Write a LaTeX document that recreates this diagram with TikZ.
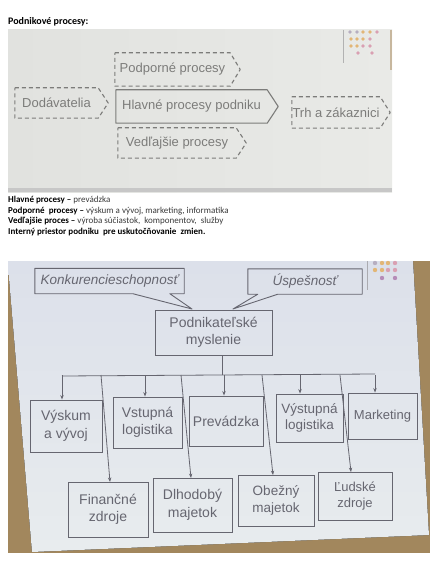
\documentclass[tikz,border=0pt]{standalone}
\usepackage{fontspec}
\setmainfont{Carlito}
\newfontfamily\arialf{Liberation Sans}
\usetikzlibrary{arrows.meta}
\definecolor{bgA}{HTML}{E1E2DF}
\definecolor{bgAr}{HTML}{E9EAE7}
\definecolor{inkA}{HTML}{7C7C7A}
\definecolor{slideT}{HTML}{DCE0EA}
\definecolor{slideB}{HTML}{E8ECEE}
\definecolor{inkB}{HTML}{666670}
\definecolor{brownB}{HTML}{A2875D}
\definecolor{dotO}{HTML}{E2B676}
\definecolor{dotP}{HTML}{D9A0B2}
\definecolor{dotG}{HTML}{B6AEC0}
\definecolor{dotV}{HTML}{B58CB8}
\definecolor{docgray}{HTML}{3A3A3A}
\tikzset{
  doc/.style={anchor=base west, inner sep=0pt, text=docgray, font=\fontsize{9}{10}\selectfont},
  procbody/.style={rectangle, inner sep=0pt, text=inkA, font=\arialf\fontsize{13}{15}\selectfont},
  dashA/.style={draw=inkA, line width=1.1pt, dash pattern=on 4pt off 3pt, line join=round},
  solidA/.style={draw=inkA, line width=1.1pt, line join=round},
  boxB/.style={rectangle, draw=inkB, line width=0.9pt, inner sep=0pt, align=center, text=inkB,
    font=\arialf\fontsize{14}{17.5}\selectfont},
  callB/.style={rectangle, inner sep=0pt, text=inkB,
    font=\arialf\itshape\fontsize{13.5}{16}\selectfont},
  calloutline/.style={draw=inkB, line width=0.9pt, line join=round},
  conB/.style={draw=inkB, line width=0.8pt},
  arrB/.style={conB, -{Stealth[length=4.5pt,width=3.4pt]}},
  dotA/.style={circle, inner sep=0pt, minimum size=3.6pt},
  dotB/.style={circle, inner sep=0pt, minimum size=4.4pt}
}
\begin{document}
\begin{tikzpicture}[x=1pt,y=-1pt]
\useasboundingbox[fill=white] (0,0) rectangle (443,580);

% ---------- title ----------
\node[doc, text=black, font=\bfseries\fontsize{10}{12}\selectfont] (title) at (8,25) {Podnikové procesy:};

% ---------- photo 1 ----------
\fill[left color=bgA, right color=bgAr] (8,30) rectangle (392,192);
\fill[color=black!22] (8,188) rectangle (392,192);
\fill[color=brownB!60] (389.5,30) rectangle (392,70);
\draw[color=black!30, line width=0.6pt] (343,30) -- (343,63);
\foreach \x/\c in {350/dotG,357/dotG,363/dotO,370/dotO,377/dotP} \node[dotA, fill=\c] at (\x,32) {};
\foreach \x/\c in {351/dotO,357/dotO,363/dotO,370/dotP} \node[dotA, fill=\c] at (\x,39) {};
\foreach \x/\c in {351/dotO,357/dotO,363/dotP,370/dotP} \node[dotA, fill=\c] at (\x,46) {};
\foreach \x/\c in {358/dotP,372/dotP} \node[dotA, fill=\c] at (\x,53) {};

\node[procbody, minimum width=115pt, minimum height=33pt] (pp) at (172.5,69.5) {Podporné procesy};
\node[procbody, minimum width=83pt, minimum height=30pt] (dod) at (56.5,103) {Dodávatelia};
\node[procbody, minimum width=151pt, minimum height=33pt] (hp) at (191.5,106.5) {Hlavné procesy podniku};
\node[procbody, minimum width=88pt, minimum height=31pt] (trh) at (336,112.5) {Trh a zákaznici};
\node[procbody, minimum width=118pt, minimum height=30pt] (vp) at (177,143) {Vedľajšie procesy};
\foreach \n in {pp,dod,trh,vp}
  \draw[dashA] (\n.north west) -- (\n.north east) -- ([xshift=10pt]\n.east) -- (\n.south east) -- (\n.south west) -- cycle;
\draw[solidA] (hp.north west) -- (hp.north east) -- ([xshift=11pt]hp.east) -- (hp.south east) -- (hp.south west) -- cycle;

% ---------- document text ----------
\node[doc] (l1) at (8,202) {\textbf{\color{black}Hlavné procesy –} prevádzka};
\node[doc] (l2) at (8,213) {\textbf{\color{black}Podporné~ procesy –} výskum a vývoj, marketing, informatika};
\node[doc] (l3) at (8,223.5) {\textbf{\color{black}Vedľajšie proces –} výroba súčiastok,~ komponentov,~ služby};
\node[doc, text=black, font=\bfseries\fontsize{9}{10}\selectfont] (l4) at (8,234) {Interný priestor podniku~ pre uskutočňovanie~ zmien.};

% ---------- photo 2 ----------
\fill[brownB] (8,261) rectangle (430,553);
\fill[top color=slideT, bottom color=slideB] (8,261) -- (413,261) -- (429,535) -- (32,552) -- (8,266) -- cycle;
\draw[color=inkB!55, line width=0.6pt] (367,261) -- (367,290);
\foreach \x/\c in {375/dotG,382/dotO,388/dotO,395/dotP} \node[dotB, fill=\c] at (\x,263) {};
\foreach \x/\c in {375/dotO,382/dotO,388/dotP,395/dotP} \node[dotB, fill=\c] at (\x,270) {};
\foreach \x/\c in {382/dotV,395/dotV} \node[dotB, fill=\c] at (\x,278) {};

\node[boxB, minimum width=117pt, minimum height=45pt] (pm) at (213.5,332.5) {Podnikateľské\\myslenie};

\node[callB, minimum width=149pt, minimum height=25pt] (kon) at (109.5,281) {Konkurencieschopnosť};
\node[callB, minimum width=114pt, minimum height=25pt] (usp) at (305,281.5) {Úspešnosť};
\coordinate (kt) at (192,309);
\coordinate (ut) at (233,309);
\draw[calloutline] (kon.south west) -- ([xshift=98pt]kon.south west) -- (kt) -- ([xshift=135pt]kon.south west)
  -- (kon.south east) -- (kon.north east) -- (kon.north west) -- cycle;
\draw[calloutline] (usp.south west) -- ([xshift=10pt]usp.south west) -- (ut) -- ([xshift=30pt]usp.south west)
  -- (usp.south east) -- (usp.north east) -- (usp.north west) -- cycle;

\node[boxB, minimum width=72pt, minimum height=52pt] (v1) at (66,426) {Výskum\\a vývoj};
\node[boxB, minimum width=69pt, minimum height=51pt] (v2) at (147.5,422.5) {Vstupná\\logistika};
\node[boxB, minimum width=74pt, minimum height=50pt] (v3) at (226,421) {Prevádzka};
\node[boxB, minimum width=67pt, minimum height=48pt, font=\arialf\fontsize{13.5}{16.5}\selectfont] (v4) at (309.5,418) {Výstupná\\logistika};
\node[boxB, minimum width=69pt, minimum height=46pt, font=\arialf\fontsize{13}{16}\selectfont] (v5) at (382.5,416) {Marketing};

\node[boxB, minimum width=80pt, minimum height=55pt] (b1) at (108,509.5) {Finančné\\zdroje};
\node[boxB, minimum width=79pt, minimum height=54pt] (b2) at (192.5,505) {Dlhodobý\\majetok};
\node[boxB, minimum width=76pt, minimum height=51pt, font=\arialf\fontsize{13.5}{17}\selectfont] (b3) at (276,500.5) {Obežný\\majetok};
\node[boxB, minimum width=74pt, minimum height=48pt, font=\arialf\fontsize{13}{16.5}\selectfont] (b4) at (355,496) {Ľudské\\zdroje};

% connectors
\coordinate (j0) at (222,375);
\coordinate (jL) at (62,376);
\coordinate (jR) at (375,374);
\draw[conB] (j0 |- pm.south) -- (j0);
\draw[conB] (jL) -- (jR);
\foreach \x/\n in {62/v1,145/v2,224/v3,300/v4,375/v5}
  \draw[arrB] (\x,375) -- (\x,0 |- \n.north);
\coordinate (e1) at (110,482);
\coordinate (e2) at (191,478);
\coordinate (e3) at (273,475);
\coordinate (e4) at (351,472);
\draw[arrB] (101,375) -- (e1);
\draw[arrB] (181,375) -- (e2);
\draw[arrB] (262,375) -- (e3);
\draw[arrB] (340,375) -- (e4);
\end{tikzpicture}
\end{document}
